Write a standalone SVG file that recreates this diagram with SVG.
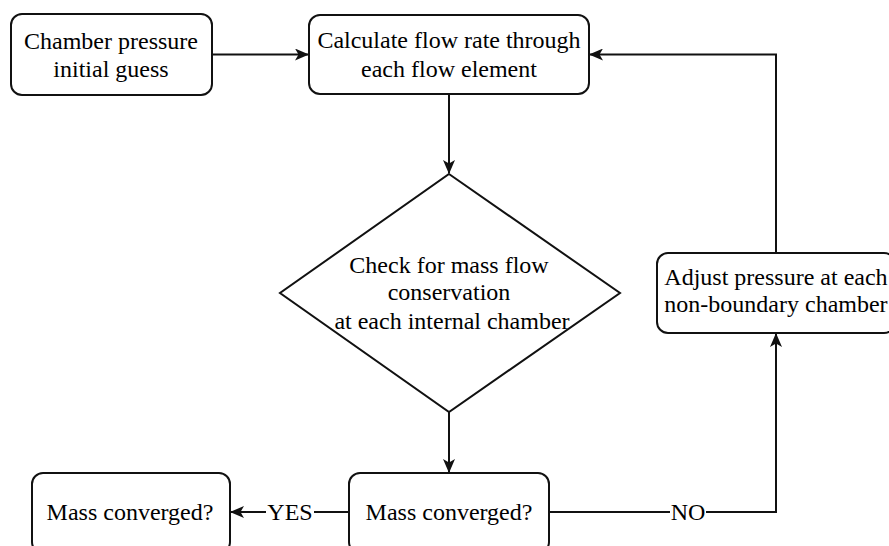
<svg xmlns="http://www.w3.org/2000/svg" width="889" height="546" viewBox="0 0 889 546">
<defs>
<style>
.box{fill:#fff;stroke:#111;stroke-width:2}
.c{fill:none;stroke:#111;stroke-width:2}
</style>
<marker id="ah" viewBox="0 0 14 12" refX="13" refY="6" markerWidth="14" markerHeight="12" markerUnits="userSpaceOnUse" orient="auto">
<path d="M0,0 L14,6 L0,12 L3.5,6 Z" fill="#111"/>
</marker>
</defs>
<rect width="889" height="546" fill="#fff"/>
<g id="connectors">
<path class="c" d="M212,54.5 L308,54.5" marker-end="url(#ah)"/>
<path class="c" d="M449,94 L449,173" marker-end="url(#ah)"/>
<path class="c" d="M449,412 L449,472" marker-end="url(#ah)"/>
<path class="c" d="M776,253 L776,54.5 L590,54.5" marker-end="url(#ah)"/>
<path class="c" d="M549,512 L776,512 L776,334" marker-end="url(#ah)"/>
<path class="c" d="M349,512 L231,512" marker-end="url(#ah)"/>
<rect x="670" y="500" width="36" height="24" fill="#fff"/>
<rect x="266" y="500" width="48" height="24" fill="#fff"/>
<text x="688" y="520" font-family="Liberation Serif" font-size="24" text-anchor="middle">NO</text>
<text x="290" y="520" font-family="Liberation Serif" font-size="24" text-anchor="middle">YES</text>
</g>
<g id="start">
<rect class="box" x="11" y="14" width="201" height="81" rx="11"/>
<text x="111" y="49" font-family="Liberation Serif" font-size="24" text-anchor="middle">Chamber pressure</text>
<text x="111" y="77" font-family="Liberation Serif" font-size="24" text-anchor="middle">initial guess</text>
</g>
<g id="calc">
<rect class="box" x="309" y="15" width="280" height="79" rx="11"/>
<text x="449" y="48" font-family="Liberation Serif" font-size="24" text-anchor="middle">Calculate flow rate through</text>
<text x="449" y="77" font-family="Liberation Serif" font-size="24" text-anchor="middle">each flow element</text>
</g>
<g id="check">
<polygon class="box" points="449,174 620,293 449,412 280,293"/>
<text x="449" y="273" font-family="Liberation Serif" font-size="24" text-anchor="middle">Check for mass flow</text>
<text x="449" y="300" font-family="Liberation Serif" font-size="24" text-anchor="middle">conservation</text>
<text x="452" y="329" font-family="Liberation Serif" font-size="24" text-anchor="middle">at each internal chamber</text>
</g>
<g id="adjust">
<rect class="box" x="657" y="253" width="238" height="80" rx="11"/>
<text x="776" y="285" font-family="Liberation Serif" font-size="24" text-anchor="middle">Adjust pressure at each</text>
<text x="776" y="312" font-family="Liberation Serif" font-size="24" text-anchor="middle">non-boundary chamber</text>
</g>
<g id="converged">
<rect class="box" x="349" y="473" width="200" height="80" rx="11"/>
<text x="449" y="520" font-family="Liberation Serif" font-size="24" text-anchor="middle">Mass converged?</text>
</g>
<g id="done">
<rect class="box" x="32" y="473" width="198" height="80" rx="11"/>
<text x="130" y="520" font-family="Liberation Serif" font-size="24" text-anchor="middle">Mass converged?</text>
</g>
</svg>
